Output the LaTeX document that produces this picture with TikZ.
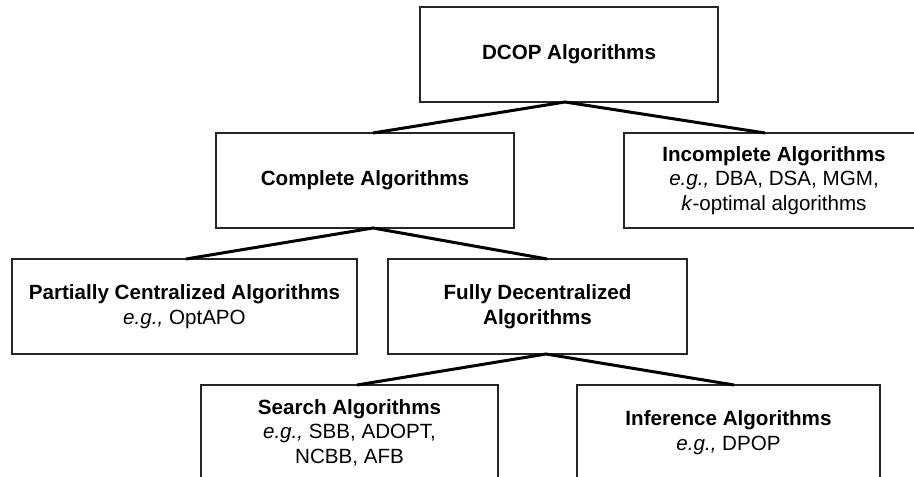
\documentclass[tikz,border=0pt]{standalone}
\usepackage{fontspec}
\setmainfont{Liberation Sans}
\usepackage{tikz}
\usetikzlibrary{positioning}
\tikzset{
	algbox/.style={draw=black!85,line width=1.2pt,outer sep=0pt,
		minimum height=95pt,align=center,
		font=\fontsize{20.6}{24.5}\selectfont},
	tie/.style={line width=3pt}
}
\newcommand{\eg}{\textit{e.g.,}}

\begin{document}
\begin{tikzpicture}[x=1pt,y=-1pt]
  \useasboundingbox (0,0) rectangle (914,477);
  \clip (0,0) rectangle (914,477);
  \node [algbox, minimum width=298pt] (dcop) at (569,54.5) {\textbf{DCOP Algorithms}};
  \node [algbox, minimum width=298pt, below left=31pt and -94pt of dcop] (comp) {\textbf{Complete Algorithms}};
  \node [algbox, minimum width=300pt, below right=31pt and -94pt of dcop] (incomp) {\textbf{Incomplete Algorithms}\\ \eg{} DBA, DSA, MGM,\\ \textit{k}-optimal algorithms};
  \node [algbox, minimum width=345pt, below left=31pt and -141pt of comp] (part) {\textbf{Partially Centralized Algorithms}\\ \eg{} OptAPO};
  \node [algbox, minimum width=299pt, below right=31pt and -126pt of comp] (full) {\textbf{Fully Decentralized}\\ \textbf{Algorithms}};
  \node [algbox, minimum width=297pt, below left=31pt and -110pt of full] (search) {\textbf{Search Algorithms}\\ \eg{} SBB, ADOPT,\\ NCBB, AFB};
  \node [algbox, minimum width=303pt, below right=31pt and -110pt of full] (infer) {\textbf{Inference Algorithms}\\ \eg{} DPOP};
  \draw [tie] ([xshift=8pt]comp.north) -- ([xshift=-4pt]dcop.south) -- ([xshift=-9pt]incomp.north);
  \draw [tie] ([xshift=1.5pt]part.north) -- ([xshift=8pt]comp.south) -- ([xshift=9.5pt]full.north);
  \draw [tie] ([xshift=7.5pt]search.north) -- ([xshift=8.5pt]full.south) -- ([xshift=5.5pt]infer.north);
\end{tikzpicture}
\end{document}
